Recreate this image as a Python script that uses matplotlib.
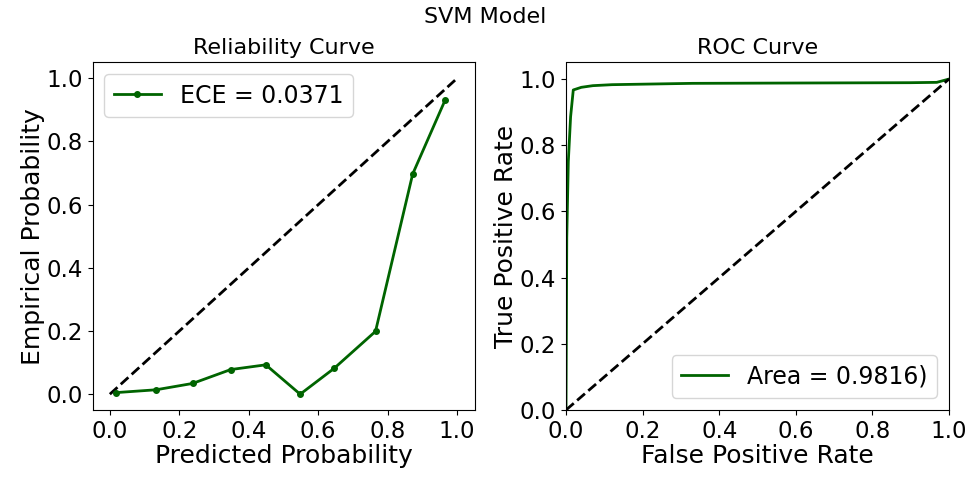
import matplotlib
matplotlib.use('Agg')
import matplotlib.pyplot as plt
import numpy as np

# Reliability curve: mean predicted probability vs observed fraction per bin
pred_prob = [0.017, 0.133, 0.238, 0.348, 0.449, 0.548, 0.646, 0.765, 0.872, 0.965]
emp_prob = [0.005, 0.014, 0.034, 0.078, 0.093, 0.0, 0.082, 0.199, 0.697, 0.930]
ece = 0.0371

# ROC curve points
fpr = [0.0, 0.001, 0.002, 0.006, 0.012, 0.019, 0.04, 0.07, 0.12, 0.33, 0.6, 0.9, 0.968, 1.0]
tpr = [0.0, 0.25, 0.52, 0.75, 0.886, 0.967, 0.975, 0.980, 0.983, 0.987, 0.988, 0.989, 0.990, 1.0]
auc = 0.9816

plt.rcParams['font.size'] = 17
plt.rcParams['axes.labelsize'] = 18
plt.rcParams['xtick.labelsize'] = 16.5
plt.rcParams['ytick.labelsize'] = 16.5

fig = plt.figure(figsize=(9.71, 4.8), dpi=100)
ax1 = fig.add_axes([92.5 / 971, 1 - 410 / 480, 382 / 971, 347.5 / 480])
ax2 = fig.add_axes([566 / 971, 1 - 410 / 480, 383 / 971, 347.5 / 480])

ax1.plot([0, 1], [0, 1], 'k--', lw=2)
ax1.plot(pred_prob, emp_prob, '-o', color='darkgreen', lw=2, markersize=4,
         label='ECE = %.4f' % ece)
ax1.set_xlabel('Predicted Probability', labelpad=1)
ax1.set_ylabel('Empirical Probability', labelpad=1)
ax1.set_title('Reliability Curve', fontsize=16)
ax1.set_xticks(np.arange(0, 1.01, 0.2))
ax1.set_yticks(np.arange(0, 1.01, 0.2))
ax1.legend(loc='upper left')

ax2.plot(fpr, tpr, color='darkgreen', lw=2, label='Area = %.4f)' % auc)
ax2.plot([0, 1], [0, 1], 'k--', lw=2)
ax2.set_xlim(0, 1)
ax2.set_ylim(0, 1.05)
ax2.set_xlabel('False Positive Rate', labelpad=1)
ax2.set_ylabel('True Positive Rate', labelpad=1)
ax2.set_title('ROC Curve', fontsize=16)
ax2.legend(loc='lower right')

fig.suptitle('SVM Model', fontsize=16, y=0.985)

fig.savefig('out.png', dpi=100)
